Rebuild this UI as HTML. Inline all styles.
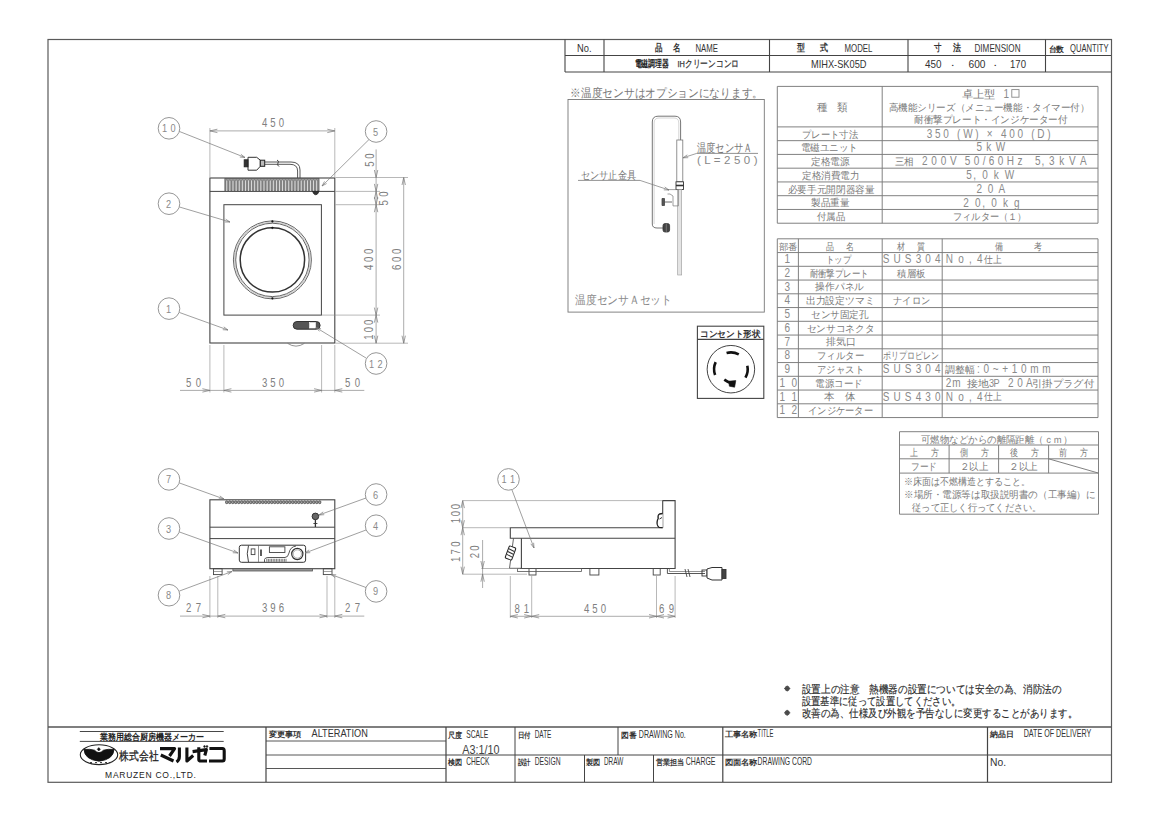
<!DOCTYPE html>
<html><head><meta charset="utf-8"><style>
html,body{margin:0;padding:0;background:#fff;width:1161px;height:821px;overflow:hidden}
svg{display:block;font-family:"Liberation Sans",sans-serif}
</style></head><body>
<svg width="1161" height="821" viewBox="0 0 1161 821">
<rect x="0" y="0" width="1161" height="821" fill="#fff"/>
<rect x="48.00" y="39.50" width="1063.50" height="742.80" stroke="#5a5a5a" stroke-width="1.2" fill="none" rx="0"/>
<line x1="565.00" y1="39.50" x2="565.00" y2="72.00" stroke="#444" stroke-width="1.1"/>
<line x1="604.00" y1="39.50" x2="604.00" y2="72.00" stroke="#444" stroke-width="1.1"/>
<line x1="769.50" y1="39.50" x2="769.50" y2="72.00" stroke="#444" stroke-width="1.1"/>
<line x1="908.00" y1="39.50" x2="908.00" y2="72.00" stroke="#444" stroke-width="1.1"/>
<line x1="1045.50" y1="39.50" x2="1045.50" y2="72.00" stroke="#444" stroke-width="1.1"/>
<line x1="565.00" y1="55.50" x2="1111.00" y2="55.50" stroke="#444" stroke-width="1.1"/>
<line x1="565.00" y1="72.00" x2="1111.00" y2="72.00" stroke="#444" stroke-width="1.1"/>
<text x="577.00" y="51.80" font-size="11.8" fill="#333" textLength="14.50" lengthAdjust="spacingAndGlyphs">No.</text>
<text x="654.50" y="51.30" font-size="9.5" fill="#333" textLength="7.50" lengthAdjust="spacingAndGlyphs" font-weight="bold">品</text>
<text x="673.00" y="51.30" font-size="9.5" fill="#333" textLength="7.50" lengthAdjust="spacingAndGlyphs" font-weight="bold">名</text>
<text x="695.50" y="51.80" font-size="11.8" fill="#333" textLength="22.50" lengthAdjust="spacingAndGlyphs">NAME</text>
<text x="797.00" y="51.30" font-size="9.5" fill="#333" textLength="8.00" lengthAdjust="spacingAndGlyphs" font-weight="bold">型</text>
<text x="820.00" y="51.30" font-size="9.5" fill="#333" textLength="8.00" lengthAdjust="spacingAndGlyphs" font-weight="bold">式</text>
<text x="844.50" y="51.80" font-size="11.8" fill="#333" textLength="28.00" lengthAdjust="spacingAndGlyphs">MODEL</text>
<text x="934.00" y="51.30" font-size="9.5" fill="#333" textLength="7.50" lengthAdjust="spacingAndGlyphs" font-weight="bold">寸</text>
<text x="953.00" y="51.30" font-size="9.5" fill="#333" textLength="8.00" lengthAdjust="spacingAndGlyphs" font-weight="bold">法</text>
<text x="974.50" y="51.80" font-size="11.8" fill="#333" textLength="46.00" lengthAdjust="spacingAndGlyphs">DIMENSION</text>
<text x="1048.50" y="51.50" font-size="8" fill="#333" textLength="15.50" lengthAdjust="spacingAndGlyphs" font-weight="bold">台数</text>
<text x="1070.00" y="51.80" font-size="11.8" fill="#333" textLength="38.50" lengthAdjust="spacingAndGlyphs">QUANTITY</text>
<text x="634.50" y="67.30" font-size="9.5" fill="#222" textLength="34.50" lengthAdjust="spacingAndGlyphs" font-weight="bold">電磁調理器</text>
<g stroke="#333" stroke-width="0.25">
<text x="677.50" y="67.30" font-size="9.5" fill="#333" textLength="61.50" lengthAdjust="spacingAndGlyphs">IHクリーンコンロ</text>
</g>
<text x="811.00" y="68.00" font-size="11" fill="#333" textLength="55.50" lengthAdjust="spacingAndGlyphs">MIHX-SK05D</text>
<text x="925.00" y="68.00" font-size="11" fill="#333" textLength="16.50" lengthAdjust="spacingAndGlyphs">450</text>
<text x="953.00" y="67.00" font-size="5" fill="#333" text-anchor="middle">▪</text>
<text x="968.50" y="68.00" font-size="11" fill="#333" textLength="17.00" lengthAdjust="spacingAndGlyphs">600</text>
<text x="995.50" y="67.00" font-size="5" fill="#333" text-anchor="middle">▪</text>
<text x="1010.00" y="68.00" font-size="11" fill="#333" textLength="16.00" lengthAdjust="spacingAndGlyphs">170</text>
<line x1="777.30" y1="86.40" x2="1098.00" y2="86.40" stroke="#7a7a7a" stroke-width="0.95"/>
<line x1="777.30" y1="126.90" x2="1098.00" y2="126.90" stroke="#7a7a7a" stroke-width="0.95"/>
<line x1="777.30" y1="140.66" x2="1098.00" y2="140.66" stroke="#7a7a7a" stroke-width="0.95"/>
<line x1="777.30" y1="154.42" x2="1098.00" y2="154.42" stroke="#7a7a7a" stroke-width="0.95"/>
<line x1="777.30" y1="168.18" x2="1098.00" y2="168.18" stroke="#7a7a7a" stroke-width="0.95"/>
<line x1="777.30" y1="181.94" x2="1098.00" y2="181.94" stroke="#7a7a7a" stroke-width="0.95"/>
<line x1="777.30" y1="195.70" x2="1098.00" y2="195.70" stroke="#7a7a7a" stroke-width="0.95"/>
<line x1="777.30" y1="209.46" x2="1098.00" y2="209.46" stroke="#7a7a7a" stroke-width="0.95"/>
<line x1="777.30" y1="223.22" x2="1098.00" y2="223.22" stroke="#7a7a7a" stroke-width="0.95"/>
<line x1="777.30" y1="86.40" x2="777.30" y2="223.20" stroke="#7a7a7a" stroke-width="0.95"/>
<line x1="882.20" y1="86.40" x2="882.20" y2="223.20" stroke="#7a7a7a" stroke-width="0.95"/>
<line x1="1098.00" y1="86.40" x2="1098.00" y2="223.20" stroke="#7a7a7a" stroke-width="0.95"/>
<text x="816.50" y="110.80" font-size="10.5" fill="#7a7a7a" textLength="10.50" lengthAdjust="spacingAndGlyphs">種</text>
<text x="836.50" y="110.80" font-size="10.5" fill="#7a7a7a" textLength="10.50" lengthAdjust="spacingAndGlyphs">類</text>
<text x="961.80" y="97.80" font-size="10.5" fill="#7a7a7a" textLength="33.70" lengthAdjust="spacingAndGlyphs">卓上型</text>
<text transform="translate(1003.50,97.80) scale(0.8,1)" x="0" y="0" font-size="12.5" fill="#8a8a8a" textLength="6.41" lengthAdjust="spacing">1</text>
<rect x="1011.80" y="89.60" width="7.20" height="7.60" stroke="#888" stroke-width="0.9" fill="none" rx="0"/>
<text x="888.60" y="110.70" font-size="9.5" fill="#7a7a7a" textLength="200.90" lengthAdjust="spacingAndGlyphs">高機能シリーズ（メニュー機能・タイマー付）</text>
<text x="914.00" y="123.30" font-size="9.5" fill="#7a7a7a" textLength="153.50" lengthAdjust="spacingAndGlyphs">耐衝撃プレート・インジケーター付</text>
<text x="802.20" y="137.50" font-size="9.5" fill="#7a7a7a" textLength="55.80" lengthAdjust="spacingAndGlyphs">プレート寸法</text>
<text x="800.70" y="151.26" font-size="9.5" fill="#7a7a7a" textLength="57.30" lengthAdjust="spacingAndGlyphs">電磁ユニット</text>
<text x="811.00" y="165.02" font-size="9.5" fill="#7a7a7a" textLength="38.50" lengthAdjust="spacingAndGlyphs">定格電源</text>
<text x="802.20" y="178.78" font-size="9.5" fill="#7a7a7a" textLength="57.30" lengthAdjust="spacingAndGlyphs">定格消費電力</text>
<text x="787.60" y="192.54" font-size="9.5" fill="#7a7a7a" textLength="86.90" lengthAdjust="spacingAndGlyphs">必要手元開閉器容量</text>
<text x="811.00" y="206.30" font-size="9.5" fill="#7a7a7a" textLength="38.50" lengthAdjust="spacingAndGlyphs">製品重量</text>
<text x="816.90" y="220.06" font-size="9.5" fill="#7a7a7a" textLength="28.10" lengthAdjust="spacingAndGlyphs">付属品</text>
<text transform="translate(926.70,137.70) scale(0.8,1)" x="0" y="0" font-size="12.5" fill="#8a8a8a" textLength="154.91" lengthAdjust="spacing">350 (W) × 400 (D)</text>
<text transform="translate(976.40,151.46) scale(0.8,1)" x="0" y="0" font-size="12.5" fill="#8a8a8a" textLength="35.91" lengthAdjust="spacing">5 k W</text>
<text transform="translate(966.20,178.98) scale(0.8,1)" x="0" y="0" font-size="12.5" fill="#8a8a8a" textLength="59.91" lengthAdjust="spacing">5, 0 k W</text>
<text transform="translate(976.40,192.74) scale(0.8,1)" x="0" y="0" font-size="12.5" fill="#8a8a8a" textLength="35.91" lengthAdjust="spacing">2 0 A</text>
<text transform="translate(963.30,206.50) scale(0.8,1)" x="0" y="0" font-size="12.5" fill="#8a8a8a" textLength="70.41" lengthAdjust="spacing">2 0, 0 k g</text>
<text x="953.00" y="220.26" font-size="9.5" fill="#7a7a7a" textLength="73.50" lengthAdjust="spacingAndGlyphs">フィルター（１）</text>
<text x="894.50" y="165.02" font-size="9.5" fill="#7a7a7a" textLength="19.00" lengthAdjust="spacingAndGlyphs">三相</text>
<text transform="translate(922.00,165.22) scale(0.8,1)" x="0" y="0" font-size="12.5" fill="#8a8a8a" textLength="43.28" lengthAdjust="spacing">2 0 0 V</text>
<text transform="translate(964.70,165.22) scale(0.8,1)" x="0" y="0" font-size="12.5" fill="#8a8a8a" textLength="72.16" lengthAdjust="spacing">5 0 / 6 0 H z</text>
<text transform="translate(1035.00,165.22) scale(0.8,1)" x="0" y="0" font-size="12.5" fill="#8a8a8a" textLength="64.53" lengthAdjust="spacing">5, 3 k V A</text>
<line x1="777.30" y1="238.80" x2="1098.00" y2="238.80" stroke="#7a7a7a" stroke-width="0.95"/>
<line x1="777.30" y1="252.55" x2="1098.00" y2="252.55" stroke="#7a7a7a" stroke-width="0.95"/>
<line x1="777.30" y1="266.30" x2="1098.00" y2="266.30" stroke="#7a7a7a" stroke-width="0.95"/>
<line x1="777.30" y1="280.05" x2="1098.00" y2="280.05" stroke="#7a7a7a" stroke-width="0.95"/>
<line x1="777.30" y1="293.80" x2="1098.00" y2="293.80" stroke="#7a7a7a" stroke-width="0.95"/>
<line x1="777.30" y1="307.55" x2="1098.00" y2="307.55" stroke="#7a7a7a" stroke-width="0.95"/>
<line x1="777.30" y1="321.30" x2="1098.00" y2="321.30" stroke="#7a7a7a" stroke-width="0.95"/>
<line x1="777.30" y1="335.05" x2="1098.00" y2="335.05" stroke="#7a7a7a" stroke-width="0.95"/>
<line x1="777.30" y1="348.80" x2="1098.00" y2="348.80" stroke="#7a7a7a" stroke-width="0.95"/>
<line x1="777.30" y1="362.55" x2="1098.00" y2="362.55" stroke="#7a7a7a" stroke-width="0.95"/>
<line x1="777.30" y1="376.30" x2="1098.00" y2="376.30" stroke="#7a7a7a" stroke-width="0.95"/>
<line x1="777.30" y1="390.05" x2="1098.00" y2="390.05" stroke="#7a7a7a" stroke-width="0.95"/>
<line x1="777.30" y1="403.80" x2="1098.00" y2="403.80" stroke="#7a7a7a" stroke-width="0.95"/>
<line x1="777.30" y1="417.55" x2="1098.00" y2="417.55" stroke="#7a7a7a" stroke-width="0.95"/>
<line x1="777.30" y1="238.80" x2="777.30" y2="417.55" stroke="#7a7a7a" stroke-width="0.95"/>
<line x1="798.40" y1="238.80" x2="798.40" y2="417.55" stroke="#7a7a7a" stroke-width="0.95"/>
<line x1="882.20" y1="238.80" x2="882.20" y2="417.55" stroke="#7a7a7a" stroke-width="0.95"/>
<line x1="942.20" y1="238.80" x2="942.20" y2="417.55" stroke="#7a7a7a" stroke-width="0.95"/>
<line x1="1098.00" y1="238.80" x2="1098.00" y2="417.55" stroke="#7a7a7a" stroke-width="0.95"/>
<text x="778.50" y="249.50" font-size="9" fill="#7a7a7a" textLength="19.00" lengthAdjust="spacingAndGlyphs">部番</text>
<text x="826.00" y="249.50" font-size="9.5" fill="#7a7a7a" textLength="8.00" lengthAdjust="spacingAndGlyphs">品</text>
<text x="846.00" y="249.50" font-size="9.5" fill="#7a7a7a" textLength="8.00" lengthAdjust="spacingAndGlyphs">名</text>
<text x="897.00" y="249.50" font-size="9.5" fill="#7a7a7a" textLength="8.00" lengthAdjust="spacingAndGlyphs">材</text>
<text x="917.00" y="249.50" font-size="9.5" fill="#7a7a7a" textLength="8.00" lengthAdjust="spacingAndGlyphs">質</text>
<text x="995.00" y="249.50" font-size="9.5" fill="#7a7a7a" textLength="8.00" lengthAdjust="spacingAndGlyphs">備</text>
<text x="1034.00" y="249.50" font-size="9.5" fill="#7a7a7a" textLength="8.00" lengthAdjust="spacingAndGlyphs">考</text>
<text transform="translate(784.50,263.15) scale(0.8,1)" x="0" y="0" font-size="12.5" fill="#8a8a8a" textLength="9.53" lengthAdjust="spacing">1</text>
<text x="825.60" y="262.95" font-size="9.5" fill="#7a7a7a" textLength="25.40" lengthAdjust="spacingAndGlyphs">トップ</text>
<text transform="translate(882.70,263.15) scale(0.8,1)" x="0" y="0" font-size="12.5" fill="#8a8a8a" textLength="72.41" lengthAdjust="spacing">SUS304</text>
<text transform="translate(945.70,263.15) scale(0.8,1)" x="0" y="0" font-size="12.5" fill="#8a8a8a" textLength="46.16" lengthAdjust="spacing">N o ,  4</text>
<text x="984.00" y="262.95" font-size="9.5" fill="#7a7a7a" textLength="17.50" lengthAdjust="spacingAndGlyphs">仕上</text>
<text transform="translate(784.50,276.90) scale(0.8,1)" x="0" y="0" font-size="12.5" fill="#8a8a8a" textLength="9.53" lengthAdjust="spacing">2</text>
<text x="809.50" y="276.70" font-size="9.5" fill="#7a7a7a" textLength="59.00" lengthAdjust="spacingAndGlyphs">耐衝撃プレート</text>
<text x="897.40" y="276.70" font-size="9.5" fill="#7a7a7a" textLength="28.10" lengthAdjust="spacingAndGlyphs">積層板</text>
<text transform="translate(784.50,290.65) scale(0.8,1)" x="0" y="0" font-size="12.5" fill="#8a8a8a" textLength="9.53" lengthAdjust="spacing">3</text>
<text x="815.40" y="290.45" font-size="9.5" fill="#7a7a7a" textLength="48.60" lengthAdjust="spacingAndGlyphs">操作パネル</text>
<text transform="translate(784.50,304.40) scale(0.8,1)" x="0" y="0" font-size="12.5" fill="#8a8a8a" textLength="9.53" lengthAdjust="spacing">4</text>
<text x="805.70" y="304.20" font-size="9.5" fill="#7a7a7a" textLength="68.80" lengthAdjust="spacingAndGlyphs">出力設定ツマミ</text>
<text x="893.00" y="304.20" font-size="9.5" fill="#7a7a7a" textLength="37.00" lengthAdjust="spacingAndGlyphs">ナイロン</text>
<text transform="translate(784.50,318.15) scale(0.8,1)" x="0" y="0" font-size="12.5" fill="#8a8a8a" textLength="9.53" lengthAdjust="spacing">5</text>
<text x="811.00" y="317.95" font-size="9.5" fill="#7a7a7a" textLength="57.50" lengthAdjust="spacingAndGlyphs">センサ固定孔</text>
<text transform="translate(784.50,331.90) scale(0.8,1)" x="0" y="0" font-size="12.5" fill="#8a8a8a" textLength="9.53" lengthAdjust="spacing">6</text>
<text x="806.60" y="331.70" font-size="9.5" fill="#7a7a7a" textLength="67.90" lengthAdjust="spacingAndGlyphs">センサコネクタ</text>
<text transform="translate(784.50,345.65) scale(0.8,1)" x="0" y="0" font-size="12.5" fill="#8a8a8a" textLength="9.53" lengthAdjust="spacing">7</text>
<text x="825.60" y="345.45" font-size="9.5" fill="#7a7a7a" textLength="29.90" lengthAdjust="spacingAndGlyphs">排気口</text>
<text transform="translate(784.50,359.40) scale(0.8,1)" x="0" y="0" font-size="12.5" fill="#8a8a8a" textLength="9.53" lengthAdjust="spacing">8</text>
<text x="816.90" y="359.20" font-size="9.5" fill="#7a7a7a" textLength="47.10" lengthAdjust="spacingAndGlyphs">フィルター</text>
<text x="882.70" y="359.20" font-size="9.5" fill="#7a7a7a" textLength="55.80" lengthAdjust="spacingAndGlyphs">ポリプロピレン</text>
<text transform="translate(784.50,373.15) scale(0.8,1)" x="0" y="0" font-size="12.5" fill="#8a8a8a" textLength="9.53" lengthAdjust="spacing">9</text>
<text x="816.90" y="372.95" font-size="9.5" fill="#7a7a7a" textLength="47.10" lengthAdjust="spacingAndGlyphs">アジャスト</text>
<text transform="translate(882.70,373.15) scale(0.8,1)" x="0" y="0" font-size="12.5" fill="#8a8a8a" textLength="72.41" lengthAdjust="spacing">SUS304</text>
<text transform="translate(977.00,373.15) scale(0.8,1)" x="0" y="0" font-size="12.5" fill="#8a8a8a" textLength="92.03" lengthAdjust="spacing">: 0 ~ + 1 0 m m</text>
<text x="945.10" y="372.95" font-size="9.5" fill="#7a7a7a" textLength="29.90" lengthAdjust="spacingAndGlyphs">調整幅</text>
<text transform="translate(779.50,386.90) scale(0.8,1)" x="0" y="0" font-size="12.5" fill="#8a8a8a" textLength="22.03" lengthAdjust="spacing">10</text>
<text x="815.40" y="386.70" font-size="9.5" fill="#7a7a7a" textLength="47.10" lengthAdjust="spacingAndGlyphs">電源コード</text>
<text transform="translate(945.70,386.90) scale(0.8,1)" x="0" y="0" font-size="12.5" fill="#8a8a8a" textLength="18.66" lengthAdjust="spacing">2 m</text>
<text transform="translate(779.50,400.65) scale(0.8,1)" x="0" y="0" font-size="12.5" fill="#8a8a8a" textLength="22.03" lengthAdjust="spacing">11</text>
<text x="824.20" y="400.45" font-size="9.5" fill="#7a7a7a" textLength="31.30" lengthAdjust="spacingAndGlyphs">本　体</text>
<text transform="translate(882.70,400.65) scale(0.8,1)" x="0" y="0" font-size="12.5" fill="#8a8a8a" textLength="72.41" lengthAdjust="spacing">SUS430</text>
<text transform="translate(945.70,400.65) scale(0.8,1)" x="0" y="0" font-size="12.5" fill="#8a8a8a" textLength="46.16" lengthAdjust="spacing">N o ,  4</text>
<text x="984.00" y="400.45" font-size="9.5" fill="#7a7a7a" textLength="17.50" lengthAdjust="spacingAndGlyphs">仕上</text>
<text transform="translate(779.50,414.40) scale(0.8,1)" x="0" y="0" font-size="12.5" fill="#8a8a8a" textLength="22.03" lengthAdjust="spacing">12</text>
<text x="808.00" y="414.20" font-size="9.5" fill="#7a7a7a" textLength="65.00" lengthAdjust="spacingAndGlyphs">インジケーター</text>
<text x="967.00" y="386.70" font-size="9.5" fill="#7a7a7a" textLength="22.00" lengthAdjust="spacingAndGlyphs">接地</text>
<text transform="translate(989.00,386.90) scale(0.8,1)" x="0" y="0" font-size="11.5" fill="#8a8a8a" textLength="13.22" lengthAdjust="spacing">3P</text>
<text transform="translate(1008.00,386.90) scale(0.8,1)" x="0" y="0" font-size="12.5" fill="#8a8a8a" textLength="30.78" lengthAdjust="spacing">2 0 A</text>
<text x="1032.00" y="386.70" font-size="9.5" fill="#7a7a7a" textLength="62.00" lengthAdjust="spacingAndGlyphs">引掛プラグ付</text>
<line x1="899.50" y1="431.70" x2="1098.50" y2="431.70" stroke="#7a7a7a" stroke-width="0.95"/>
<line x1="899.50" y1="445.00" x2="1098.50" y2="445.00" stroke="#7a7a7a" stroke-width="0.95"/>
<line x1="899.50" y1="458.80" x2="1098.50" y2="458.80" stroke="#7a7a7a" stroke-width="0.95"/>
<line x1="899.50" y1="473.10" x2="1098.50" y2="473.10" stroke="#7a7a7a" stroke-width="0.95"/>
<line x1="899.50" y1="514.20" x2="1098.50" y2="514.20" stroke="#7a7a7a" stroke-width="0.95"/>
<line x1="899.50" y1="431.70" x2="899.50" y2="514.20" stroke="#7a7a7a" stroke-width="0.95"/>
<line x1="1098.50" y1="431.70" x2="1098.50" y2="514.20" stroke="#7a7a7a" stroke-width="0.95"/>
<line x1="949.10" y1="445.00" x2="949.10" y2="473.10" stroke="#7a7a7a" stroke-width="0.95"/>
<line x1="998.60" y1="445.00" x2="998.60" y2="473.10" stroke="#7a7a7a" stroke-width="0.95"/>
<line x1="1048.60" y1="445.00" x2="1048.60" y2="473.10" stroke="#7a7a7a" stroke-width="0.95"/>
<line x1="1048.60" y1="458.80" x2="1098.50" y2="473.10" stroke="#7a7a7a" stroke-width="0.95"/>
<text x="921.00" y="442.50" font-size="9.5" fill="#7a7a7a" textLength="151.00" lengthAdjust="spacingAndGlyphs">可燃物などからの離隔距離（ｃｍ）</text>
<text x="910.00" y="456.00" font-size="9.5" fill="#7a7a7a" textLength="8.00" lengthAdjust="spacingAndGlyphs">上</text>
<text x="931.00" y="456.00" font-size="9.5" fill="#7a7a7a" textLength="8.00" lengthAdjust="spacingAndGlyphs">方</text>
<text x="959.75" y="456.00" font-size="9.5" fill="#7a7a7a" textLength="8.00" lengthAdjust="spacingAndGlyphs">側</text>
<text x="980.75" y="456.00" font-size="9.5" fill="#7a7a7a" textLength="8.00" lengthAdjust="spacingAndGlyphs">方</text>
<text x="1009.50" y="456.00" font-size="9.5" fill="#7a7a7a" textLength="8.00" lengthAdjust="spacingAndGlyphs">後</text>
<text x="1030.50" y="456.00" font-size="9.5" fill="#7a7a7a" textLength="8.00" lengthAdjust="spacingAndGlyphs">方</text>
<text x="1059.25" y="456.00" font-size="9.5" fill="#7a7a7a" textLength="8.00" lengthAdjust="spacingAndGlyphs">前</text>
<text x="1080.25" y="456.00" font-size="9.5" fill="#7a7a7a" textLength="8.00" lengthAdjust="spacingAndGlyphs">方</text>
<text x="911.00" y="469.80" font-size="9.5" fill="#7a7a7a" textLength="26.00" lengthAdjust="spacingAndGlyphs">フード</text>
<text x="959.50" y="469.80" font-size="9.5" fill="#7a7a7a" textLength="28.50" lengthAdjust="spacingAndGlyphs">２以上</text>
<text x="1009.00" y="469.80" font-size="9.5" fill="#7a7a7a" textLength="29.00" lengthAdjust="spacingAndGlyphs">２以上</text>
<text x="904.00" y="484.50" font-size="9.5" fill="#7a7a7a" textLength="126.50" lengthAdjust="spacingAndGlyphs">※床面は不燃構造とすること。</text>
<text x="904.00" y="498.00" font-size="9.5" fill="#7a7a7a" textLength="191.50" lengthAdjust="spacingAndGlyphs">※場所・電源等は取扱説明書の（工事編）に</text>
<text x="912.00" y="511.00" font-size="9.5" fill="#7a7a7a" textLength="129.50" lengthAdjust="spacingAndGlyphs">従って正しく行ってください。</text>
<text x="570.40" y="96.70" font-size="12" fill="#777" textLength="192.60" lengthAdjust="spacingAndGlyphs">※温度センサはオプションになります。</text>
<rect x="568.00" y="99.50" width="196.30" height="212.60" stroke="#777" stroke-width="0.9" fill="none" rx="0"/>
<text x="575.20" y="304.10" font-size="12" fill="#8a8a8a" textLength="96.80" lengthAdjust="spacingAndGlyphs">温度センサＡセット</text>
<path d="M652.3,224 L652.3,122 Q652.3,116.2 658,116.2 L675,116.2 Q680.6,116.2 680.6,122 L680.6,140" stroke="#666" stroke-width="0.9" fill="none"/>
<path d="M654.1,224 L654.1,123 Q654.1,118 659,118 L674,118 Q678.8,118 678.8,123 L678.8,140" stroke="#aaa" stroke-width="0.5" fill="none"/>
<path d="M652.3,224 Q652.3,228 657,228 L663,228" stroke="#666" stroke-width="0.9" fill="none"/>
<rect x="663.00" y="223.60" width="6.60" height="8.40" stroke="#333" stroke-width="0.8" fill="#444" rx="2"/>
<line x1="666.30" y1="223.60" x2="666.30" y2="232.00" stroke="#999" stroke-width="0.6"/>
<rect x="676.80" y="140.00" width="6.00" height="41.80" stroke="#777" stroke-width="0.8" fill="none" rx="0"/>
<rect x="676.00" y="181.80" width="7.50" height="7.70" stroke="#333" stroke-width="0.9" fill="#fff" rx="0"/>
<line x1="676.00" y1="185.50" x2="683.50" y2="185.50" stroke="#333" stroke-width="1.6"/>
<rect x="677.70" y="189.50" width="4.00" height="85.50" stroke="#999" stroke-width="0.6" fill="#e4e4e4" rx="0"/>
<path d="M667.5,189.6 L678.4,189.6 L678.4,205.9 L673,205.9 L673,196 L670,194 L667.5,194" stroke="#777" stroke-width="0.7" fill="none"/>
<path d="M662,198.5 L664.5,198.5 L664.5,205.5 L662,205.5 Z M664.5,202 L672,202" stroke="#444" stroke-width="0.8" fill="#555"/>
<text x="696.80" y="151.60" font-size="12" fill="#777" textLength="55.70" lengthAdjust="spacingAndGlyphs">温度センサＡ</text>
<text x="697.00" y="164.30" font-size="11.5" fill="#888" textLength="60.58" lengthAdjust="spacing">( L = 2 5 0 )</text>
<line x1="696.70" y1="153.40" x2="758.00" y2="153.40" stroke="#777" stroke-width="0.8"/>
<line x1="696.70" y1="153.40" x2="683.00" y2="157.80" stroke="#777" stroke-width="0.7"/>
<path d="M687.30,154.84 L683.00,157.80 L688.22,157.70" stroke="#777" stroke-width="0.7" fill="none"/>
<text x="580.80" y="178.50" font-size="11" fill="#777" textLength="55.20" lengthAdjust="spacingAndGlyphs">センサ止金具</text>
<line x1="578.00" y1="180.40" x2="640.00" y2="180.40" stroke="#777" stroke-width="0.8"/>
<line x1="640.00" y1="180.40" x2="669.00" y2="190.00" stroke="#777" stroke-width="0.7"/>
<path d="M663.78,189.85 L669.00,190.00 L664.72,187.00" stroke="#777" stroke-width="0.7" fill="none"/>
<rect x="697.40" y="326.20" width="66.40" height="72.20" stroke="#444" stroke-width="1.1" fill="none" rx="0"/>
<line x1="697.40" y1="339.40" x2="763.80" y2="339.40" stroke="#444" stroke-width="1.1"/>
<text x="700.00" y="336.50" font-size="9" fill="#333" textLength="60.50" lengthAdjust="spacingAndGlyphs" font-weight="bold">コンセント形状</text>
<circle cx="730.90" cy="369.20" r="23.75" stroke="#444" stroke-width="1.0" fill="none"/>
<path d="M726.55,352.97 A16.8,16.8 0 0 1 738.79,354.37" stroke="#111" stroke-width="2.6" fill="none"/>
<path d="M715.11,374.95 A16.8,16.8 0 0 1 715.67,362.10" stroke="#111" stroke-width="2.6" fill="none"/>
<path d="M747.33,365.71 A16.8,16.8 0 0 1 745.45,377.60" stroke="#111" stroke-width="2.6" fill="none"/>
<path d="M724.3,379.6 Q727.5,382 731.5,383.2" stroke="#111" stroke-width="2.6" fill="none"/>
<path d="M728.6,381.2 L735.8,380.6 L734.6,387.2 L729.4,386.2 Z" stroke="#111" stroke-width="0.6" fill="#111"/>
<rect x="209.90" y="178.00" width="124.90" height="165.00" stroke="#444" stroke-width="1.1" fill="none" rx="0"/>
<line x1="209.90" y1="191.40" x2="334.80" y2="191.40" stroke="#444" stroke-width="1.0"/>
<rect x="224.90" y="178.50" width="94.10" height="12.50" stroke="#555" stroke-width="0.8" fill="#999" rx="0"/>
<path d="M225.90,191 L225.90,180.5 Q226.80,179.3 227.70,180.5 L227.70,191" stroke="#444" stroke-width="0.5" fill="#e8e8e8"/>
<path d="M229.00,191 L229.00,180.5 Q229.90,179.3 230.80,180.5 L230.80,191" stroke="#444" stroke-width="0.5" fill="#e8e8e8"/>
<path d="M232.10,191 L232.10,180.5 Q233.00,179.3 233.90,180.5 L233.90,191" stroke="#444" stroke-width="0.5" fill="#e8e8e8"/>
<path d="M235.20,191 L235.20,180.5 Q236.10,179.3 237.00,180.5 L237.00,191" stroke="#444" stroke-width="0.5" fill="#e8e8e8"/>
<path d="M238.30,191 L238.30,180.5 Q239.20,179.3 240.10,180.5 L240.10,191" stroke="#444" stroke-width="0.5" fill="#e8e8e8"/>
<path d="M241.40,191 L241.40,180.5 Q242.30,179.3 243.20,180.5 L243.20,191" stroke="#444" stroke-width="0.5" fill="#e8e8e8"/>
<path d="M244.50,191 L244.50,180.5 Q245.40,179.3 246.30,180.5 L246.30,191" stroke="#444" stroke-width="0.5" fill="#e8e8e8"/>
<path d="M247.60,191 L247.60,180.5 Q248.50,179.3 249.40,180.5 L249.40,191" stroke="#444" stroke-width="0.5" fill="#e8e8e8"/>
<path d="M250.70,191 L250.70,180.5 Q251.60,179.3 252.50,180.5 L252.50,191" stroke="#444" stroke-width="0.5" fill="#e8e8e8"/>
<path d="M253.80,191 L253.80,180.5 Q254.70,179.3 255.60,180.5 L255.60,191" stroke="#444" stroke-width="0.5" fill="#e8e8e8"/>
<path d="M256.90,191 L256.90,180.5 Q257.80,179.3 258.70,180.5 L258.70,191" stroke="#444" stroke-width="0.5" fill="#e8e8e8"/>
<path d="M260.00,191 L260.00,180.5 Q260.90,179.3 261.80,180.5 L261.80,191" stroke="#444" stroke-width="0.5" fill="#e8e8e8"/>
<path d="M263.10,191 L263.10,180.5 Q264.00,179.3 264.90,180.5 L264.90,191" stroke="#444" stroke-width="0.5" fill="#e8e8e8"/>
<path d="M266.20,191 L266.20,180.5 Q267.10,179.3 268.00,180.5 L268.00,191" stroke="#444" stroke-width="0.5" fill="#e8e8e8"/>
<path d="M269.30,191 L269.30,180.5 Q270.20,179.3 271.10,180.5 L271.10,191" stroke="#444" stroke-width="0.5" fill="#e8e8e8"/>
<path d="M272.40,191 L272.40,180.5 Q273.30,179.3 274.20,180.5 L274.20,191" stroke="#444" stroke-width="0.5" fill="#e8e8e8"/>
<path d="M275.50,191 L275.50,180.5 Q276.40,179.3 277.30,180.5 L277.30,191" stroke="#444" stroke-width="0.5" fill="#e8e8e8"/>
<path d="M278.60,191 L278.60,180.5 Q279.50,179.3 280.40,180.5 L280.40,191" stroke="#444" stroke-width="0.5" fill="#e8e8e8"/>
<path d="M281.70,191 L281.70,180.5 Q282.60,179.3 283.50,180.5 L283.50,191" stroke="#444" stroke-width="0.5" fill="#e8e8e8"/>
<path d="M284.80,191 L284.80,180.5 Q285.70,179.3 286.60,180.5 L286.60,191" stroke="#444" stroke-width="0.5" fill="#e8e8e8"/>
<path d="M287.90,191 L287.90,180.5 Q288.80,179.3 289.70,180.5 L289.70,191" stroke="#444" stroke-width="0.5" fill="#e8e8e8"/>
<path d="M291.00,191 L291.00,180.5 Q291.90,179.3 292.80,180.5 L292.80,191" stroke="#444" stroke-width="0.5" fill="#e8e8e8"/>
<path d="M294.10,191 L294.10,180.5 Q295.00,179.3 295.90,180.5 L295.90,191" stroke="#444" stroke-width="0.5" fill="#e8e8e8"/>
<path d="M297.20,191 L297.20,180.5 Q298.10,179.3 299.00,180.5 L299.00,191" stroke="#444" stroke-width="0.5" fill="#e8e8e8"/>
<path d="M300.30,191 L300.30,180.5 Q301.20,179.3 302.10,180.5 L302.10,191" stroke="#444" stroke-width="0.5" fill="#e8e8e8"/>
<path d="M303.40,191 L303.40,180.5 Q304.30,179.3 305.20,180.5 L305.20,191" stroke="#444" stroke-width="0.5" fill="#e8e8e8"/>
<path d="M306.50,191 L306.50,180.5 Q307.40,179.3 308.30,180.5 L308.30,191" stroke="#444" stroke-width="0.5" fill="#e8e8e8"/>
<path d="M309.60,191 L309.60,180.5 Q310.50,179.3 311.40,180.5 L311.40,191" stroke="#444" stroke-width="0.5" fill="#e8e8e8"/>
<path d="M312.70,191 L312.70,180.5 Q313.60,179.3 314.50,180.5 L314.50,191" stroke="#444" stroke-width="0.5" fill="#e8e8e8"/>
<path d="M315.80,191 L315.80,180.5 Q316.70,179.3 317.60,180.5 L317.60,191" stroke="#444" stroke-width="0.5" fill="#e8e8e8"/>
<path d="M312.5,191.4 L319,191.4 L317.5,194 Q315.8,195.5 314,194 Z" stroke="#222" stroke-width="0.8" fill="#333"/>
<rect x="223.90" y="204.70" width="97.50" height="110.40" stroke="#444" stroke-width="1.0" fill="none" rx="0"/>
<circle cx="272.40" cy="259.90" r="39.00" stroke="#555" stroke-width="0.9" fill="none"/>
<circle cx="272.40" cy="259.90" r="37.80" stroke="#999" stroke-width="0.5" fill="none"/>
<circle cx="272.40" cy="259.90" r="36.70" stroke="#555" stroke-width="0.9" fill="none"/>
<circle cx="272.40" cy="259.90" r="32.20" stroke="#333" stroke-width="1.5" fill="none"/>
<circle cx="272.40" cy="221.40" r="0.90" stroke="#111" stroke-width="0.4" fill="#111"/>
<circle cx="272.40" cy="227.80" r="0.90" stroke="#111" stroke-width="0.4" fill="#111"/>
<circle cx="272.40" cy="298.30" r="0.90" stroke="#111" stroke-width="0.4" fill="#111"/>
<rect x="293.20" y="321.50" width="26.90" height="7.70" stroke="#333" stroke-width="1.0" fill="#555" rx="3.8"/>
<rect x="309.50" y="322.60" width="6.00" height="5.40" stroke="#fff" stroke-width="0.6" fill="#fff" rx="0"/>
<path d="M287.5,343.3 Q296,349 304.5,343.3" stroke="#777" stroke-width="0.8" fill="none"/>
<path d="M264.7,162 L291,162 Q300,162 300,170 L300,178" stroke="#444" stroke-width="0.9" fill="none"/>
<path d="M264.7,164.3 L290,164.3 Q297.6,164.3 297.6,171 L297.6,178" stroke="#444" stroke-width="0.9" fill="none"/>
<path d="M248,157.3 L256.7,157.3 L260.3,160.2 L260.3,166.3 L256.7,170.2 L248,170.2 Z" stroke="#333" stroke-width="1.0" fill="#fff"/>
<rect x="260.30" y="160.20" width="4.40" height="6.10" stroke="#222" stroke-width="1.0" fill="#bbb" rx="0"/>
<rect x="244.20" y="159.80" width="3.80" height="7.00" stroke="#222" stroke-width="0.9" fill="#333" rx="0"/>
<path d="M277,160 Q279.5,161 278,163 Q276.5,165 279,166.5" stroke="#444" stroke-width="1.0" fill="none"/>
<line x1="209.90" y1="128.00" x2="209.90" y2="177.00" stroke="#888" stroke-width="0.6"/>
<line x1="334.80" y1="128.00" x2="334.80" y2="177.00" stroke="#888" stroke-width="0.6"/>
<line x1="209.90" y1="130.90" x2="334.80" y2="130.90" stroke="#888" stroke-width="0.7"/>
<path d="M217.40,129.20 L209.90,130.90 L217.40,132.60" stroke="#777" stroke-width="0.7" fill="none"/>
<path d="M327.30,132.60 L334.80,130.90 L327.30,129.20" stroke="#777" stroke-width="0.7" fill="none"/>
<text transform="translate(262.00,127.20) scale(0.8,1)" x="0" y="0" font-size="12" fill="#808080" textLength="27.62" lengthAdjust="spacing">450</text>
<line x1="335.50" y1="177.50" x2="408.00" y2="177.50" stroke="#888" stroke-width="0.6"/>
<line x1="335.50" y1="191.40" x2="380.00" y2="191.40" stroke="#888" stroke-width="0.6"/>
<line x1="335.50" y1="204.70" x2="380.00" y2="204.70" stroke="#888" stroke-width="0.6"/>
<line x1="322.00" y1="315.10" x2="380.00" y2="315.10" stroke="#888" stroke-width="0.6"/>
<line x1="335.50" y1="343.20" x2="408.00" y2="343.20" stroke="#888" stroke-width="0.6"/>
<line x1="376.10" y1="149.40" x2="376.10" y2="343.20" stroke="#888" stroke-width="0.7"/>
<line x1="403.70" y1="177.50" x2="403.70" y2="343.20" stroke="#888" stroke-width="0.7"/>
<path d="M374.40,170.00 L376.10,177.50 L377.80,170.00" stroke="#777" stroke-width="0.7" fill="none"/>
<path d="M377.80,198.90 L376.10,191.40 L374.40,198.90" stroke="#777" stroke-width="0.7" fill="none"/>
<path d="M374.40,183.90 L376.10,191.40 L377.80,183.90" stroke="#777" stroke-width="0.7" fill="none"/>
<path d="M377.80,212.20 L376.10,204.70 L374.40,212.20" stroke="#777" stroke-width="0.7" fill="none"/>
<path d="M374.40,197.20 L376.10,204.70 L377.80,197.20" stroke="#777" stroke-width="0.7" fill="none"/>
<path d="M377.80,322.60 L376.10,315.10 L374.40,322.60" stroke="#777" stroke-width="0.7" fill="none"/>
<path d="M374.40,307.60 L376.10,315.10 L377.80,307.60" stroke="#777" stroke-width="0.7" fill="none"/>
<path d="M374.40,335.70 L376.10,343.20 L377.80,335.70" stroke="#777" stroke-width="0.7" fill="none"/>
<path d="M405.40,185.00 L403.70,177.50 L402.00,185.00" stroke="#777" stroke-width="0.7" fill="none"/>
<path d="M402.00,335.70 L403.70,343.20 L405.40,335.70" stroke="#777" stroke-width="0.7" fill="none"/>
<text transform="translate(369.70,166.80) rotate(-90) scale(0.8,1)" x="0" y="4.20" font-size="12" fill="#808080" textLength="16.75" lengthAdjust="spacing">50</text>
<text transform="translate(383.60,205.50) rotate(-90) scale(0.8,1)" x="0" y="4.20" font-size="12" fill="#808080" textLength="17.50" lengthAdjust="spacing">50</text>
<text transform="translate(368.90,270.00) rotate(-90) scale(0.8,1)" x="0" y="4.20" font-size="12" fill="#808080" textLength="26.75" lengthAdjust="spacing">400</text>
<text transform="translate(396.50,270.00) rotate(-90) scale(0.8,1)" x="0" y="4.20" font-size="12" fill="#808080" textLength="26.75" lengthAdjust="spacing">600</text>
<text transform="translate(368.90,339.70) rotate(-90) scale(0.8,1)" x="0" y="4.20" font-size="12" fill="#808080" textLength="25.12" lengthAdjust="spacing">100</text>
<line x1="209.90" y1="345.00" x2="209.90" y2="392.50" stroke="#888" stroke-width="0.6"/>
<line x1="223.90" y1="345.00" x2="223.90" y2="392.50" stroke="#888" stroke-width="0.6"/>
<line x1="321.60" y1="345.00" x2="321.60" y2="392.50" stroke="#888" stroke-width="0.6"/>
<line x1="334.80" y1="345.00" x2="334.80" y2="392.50" stroke="#888" stroke-width="0.6"/>
<line x1="180.00" y1="390.40" x2="364.30" y2="390.40" stroke="#888" stroke-width="0.7"/>
<path d="M202.40,392.10 L209.90,390.40 L202.40,388.70" stroke="#777" stroke-width="0.7" fill="none"/>
<path d="M231.40,388.70 L223.90,390.40 L231.40,392.10" stroke="#777" stroke-width="0.7" fill="none"/>
<path d="M314.10,392.10 L321.60,390.40 L314.10,388.70" stroke="#777" stroke-width="0.7" fill="none"/>
<path d="M342.30,388.70 L334.80,390.40 L342.30,392.10" stroke="#777" stroke-width="0.7" fill="none"/>
<text transform="translate(186.00,386.80) scale(0.8,1)" x="0" y="0" font-size="12" fill="#808080" textLength="18.88" lengthAdjust="spacing">50</text>
<text transform="translate(262.00,386.80) scale(0.8,1)" x="0" y="0" font-size="12" fill="#808080" textLength="27.62" lengthAdjust="spacing">350</text>
<text transform="translate(345.00,386.80) scale(0.8,1)" x="0" y="0" font-size="12" fill="#808080" textLength="18.88" lengthAdjust="spacing">50</text>
<circle cx="169.00" cy="128.30" r="10.80" stroke="#8a8a8a" stroke-width="0.9" fill="none"/>
<text transform="translate(162.00,132.30) scale(0.8,1)" x="0" y="0" font-size="11.5" fill="#8a8a8a" textLength="16.97" lengthAdjust="spacing">10</text>
<line x1="179.50" y1="131.50" x2="245.00" y2="157.50" stroke="#777" stroke-width="0.7"/>
<path d="M239.80,157.05 L245.00,157.50 L240.91,154.26" stroke="#777" stroke-width="0.7" fill="none"/>
<circle cx="376.10" cy="131.50" r="10.80" stroke="#8a8a8a" stroke-width="0.9" fill="none"/>
<text transform="translate(373.10,135.50) scale(0.8,1)" x="0" y="0" font-size="11.5" fill="#8a8a8a" textLength="7.72" lengthAdjust="spacing">5</text>
<line x1="369.00" y1="139.50" x2="322.00" y2="186.00" stroke="#777" stroke-width="0.7"/>
<path d="M324.50,181.42 L322.00,186.00 L326.61,183.55" stroke="#777" stroke-width="0.7" fill="none"/>
<circle cx="169.00" cy="203.70" r="10.80" stroke="#8a8a8a" stroke-width="0.9" fill="none"/>
<text transform="translate(166.00,207.70) scale(0.8,1)" x="0" y="0" font-size="11.5" fill="#8a8a8a" textLength="7.72" lengthAdjust="spacing">2</text>
<line x1="179.50" y1="207.00" x2="230.00" y2="222.00" stroke="#777" stroke-width="0.7"/>
<path d="M224.78,222.01 L230.00,222.00 L225.63,219.14" stroke="#777" stroke-width="0.7" fill="none"/>
<circle cx="169.00" cy="308.60" r="10.80" stroke="#8a8a8a" stroke-width="0.9" fill="none"/>
<text transform="translate(166.00,312.60) scale(0.8,1)" x="0" y="0" font-size="11.5" fill="#8a8a8a" textLength="7.72" lengthAdjust="spacing">1</text>
<line x1="179.50" y1="312.50" x2="228.00" y2="330.00" stroke="#777" stroke-width="0.7"/>
<path d="M222.79,329.71 L228.00,330.00 L223.81,326.89" stroke="#777" stroke-width="0.7" fill="none"/>
<circle cx="376.10" cy="363.50" r="10.80" stroke="#8a8a8a" stroke-width="0.9" fill="none"/>
<text transform="translate(369.10,367.50) scale(0.8,1)" x="0" y="0" font-size="11.5" fill="#8a8a8a" textLength="16.97" lengthAdjust="spacing">12</text>
<line x1="366.00" y1="358.00" x2="316.00" y2="327.50" stroke="#777" stroke-width="0.7"/>
<path d="M321.05,328.82 L316.00,327.50 L319.49,331.38" stroke="#777" stroke-width="0.7" fill="none"/>
<rect x="209.90" y="499.80" width="124.90" height="68.90" stroke="#444" stroke-width="1.1" fill="none" rx="0"/>
<line x1="209.90" y1="527.20" x2="334.80" y2="527.20" stroke="#444" stroke-width="1.0"/>
<line x1="209.90" y1="538.60" x2="334.80" y2="538.60" stroke="#444" stroke-width="1.0"/>
<rect x="225.60" y="500.90" width="2.20" height="2.70" stroke="#333" stroke-width="0.75" fill="#aaa" rx="0.8"/>
<rect x="228.60" y="500.90" width="2.20" height="2.70" stroke="#333" stroke-width="0.75" fill="#aaa" rx="0.8"/>
<rect x="231.60" y="500.90" width="2.20" height="2.70" stroke="#333" stroke-width="0.75" fill="#aaa" rx="0.8"/>
<rect x="234.60" y="500.90" width="2.20" height="2.70" stroke="#333" stroke-width="0.75" fill="#aaa" rx="0.8"/>
<rect x="237.60" y="500.90" width="2.20" height="2.70" stroke="#333" stroke-width="0.75" fill="#aaa" rx="0.8"/>
<rect x="240.60" y="500.90" width="2.20" height="2.70" stroke="#333" stroke-width="0.75" fill="#aaa" rx="0.8"/>
<rect x="243.60" y="500.90" width="2.20" height="2.70" stroke="#333" stroke-width="0.75" fill="#aaa" rx="0.8"/>
<rect x="246.60" y="500.90" width="2.20" height="2.70" stroke="#333" stroke-width="0.75" fill="#aaa" rx="0.8"/>
<rect x="249.60" y="500.90" width="2.20" height="2.70" stroke="#333" stroke-width="0.75" fill="#aaa" rx="0.8"/>
<rect x="252.60" y="500.90" width="2.20" height="2.70" stroke="#333" stroke-width="0.75" fill="#aaa" rx="0.8"/>
<rect x="255.60" y="500.90" width="2.20" height="2.70" stroke="#333" stroke-width="0.75" fill="#aaa" rx="0.8"/>
<rect x="258.60" y="500.90" width="2.20" height="2.70" stroke="#333" stroke-width="0.75" fill="#aaa" rx="0.8"/>
<rect x="261.60" y="500.90" width="2.20" height="2.70" stroke="#333" stroke-width="0.75" fill="#aaa" rx="0.8"/>
<rect x="264.60" y="500.90" width="2.20" height="2.70" stroke="#333" stroke-width="0.75" fill="#aaa" rx="0.8"/>
<rect x="267.60" y="500.90" width="2.20" height="2.70" stroke="#333" stroke-width="0.75" fill="#aaa" rx="0.8"/>
<rect x="270.60" y="500.90" width="2.20" height="2.70" stroke="#333" stroke-width="0.75" fill="#aaa" rx="0.8"/>
<rect x="273.60" y="500.90" width="2.20" height="2.70" stroke="#333" stroke-width="0.75" fill="#aaa" rx="0.8"/>
<rect x="276.60" y="500.90" width="2.20" height="2.70" stroke="#333" stroke-width="0.75" fill="#aaa" rx="0.8"/>
<rect x="279.60" y="500.90" width="2.20" height="2.70" stroke="#333" stroke-width="0.75" fill="#aaa" rx="0.8"/>
<rect x="282.60" y="500.90" width="2.20" height="2.70" stroke="#333" stroke-width="0.75" fill="#aaa" rx="0.8"/>
<rect x="285.60" y="500.90" width="2.20" height="2.70" stroke="#333" stroke-width="0.75" fill="#aaa" rx="0.8"/>
<rect x="288.60" y="500.90" width="2.20" height="2.70" stroke="#333" stroke-width="0.75" fill="#aaa" rx="0.8"/>
<rect x="291.60" y="500.90" width="2.20" height="2.70" stroke="#333" stroke-width="0.75" fill="#aaa" rx="0.8"/>
<rect x="294.60" y="500.90" width="2.20" height="2.70" stroke="#333" stroke-width="0.75" fill="#aaa" rx="0.8"/>
<rect x="297.60" y="500.90" width="2.20" height="2.70" stroke="#333" stroke-width="0.75" fill="#aaa" rx="0.8"/>
<rect x="300.60" y="500.90" width="2.20" height="2.70" stroke="#333" stroke-width="0.75" fill="#aaa" rx="0.8"/>
<rect x="303.60" y="500.90" width="2.20" height="2.70" stroke="#333" stroke-width="0.75" fill="#aaa" rx="0.8"/>
<rect x="306.60" y="500.90" width="2.20" height="2.70" stroke="#333" stroke-width="0.75" fill="#aaa" rx="0.8"/>
<rect x="309.60" y="500.90" width="2.20" height="2.70" stroke="#333" stroke-width="0.75" fill="#aaa" rx="0.8"/>
<rect x="312.60" y="500.90" width="2.20" height="2.70" stroke="#333" stroke-width="0.75" fill="#aaa" rx="0.8"/>
<rect x="315.60" y="500.90" width="2.20" height="2.70" stroke="#333" stroke-width="0.75" fill="#aaa" rx="0.8"/>
<rect x="318.60" y="500.90" width="2.20" height="2.70" stroke="#333" stroke-width="0.75" fill="#aaa" rx="0.8"/>
<circle cx="315.40" cy="516.40" r="3.30" stroke="#333" stroke-width="1.0" fill="#666"/>
<line x1="315.40" y1="519.50" x2="315.40" y2="527.00" stroke="#333" stroke-width="1.3"/>
<line x1="313.40" y1="523.50" x2="317.40" y2="523.50" stroke="#333" stroke-width="0.9"/>
<rect x="239.30" y="545.20" width="66.30" height="17.10" stroke="#333" stroke-width="1.0" fill="none" rx="2.2"/>
<path d="M248.5,545.5 Q246,553.7 248.5,562" stroke="#444" stroke-width="1.0" fill="none"/>
<rect x="251.20" y="548.90" width="3.70" height="5.70" stroke="#444" stroke-width="0.9" fill="none" rx="0"/>
<line x1="261.00" y1="549.50" x2="261.00" y2="556.00" stroke="#333" stroke-width="1.6"/>
<line x1="258.50" y1="545.20" x2="258.50" y2="562.30" stroke="#666" stroke-width="0.7"/>
<rect x="269.40" y="546.80" width="15.50" height="5.70" stroke="#444" stroke-width="0.9" fill="none" rx="0"/>
<path d="M264.5,562 L264.5,559.5 Q265,557.5 268,557.5 L285,557.5 Q288,557.5 289,553 Q290,547 296,546" stroke="#444" stroke-width="0.9" fill="none"/>
<line x1="266.80" y1="558.80" x2="266.80" y2="561.80" stroke="#555" stroke-width="0.8"/>
<line x1="268.40" y1="558.80" x2="268.40" y2="561.80" stroke="#555" stroke-width="0.8"/>
<line x1="270.00" y1="558.80" x2="270.00" y2="561.80" stroke="#555" stroke-width="0.8"/>
<line x1="271.60" y1="558.80" x2="271.60" y2="561.80" stroke="#555" stroke-width="0.8"/>
<line x1="273.20" y1="558.80" x2="273.20" y2="561.80" stroke="#555" stroke-width="0.8"/>
<line x1="274.80" y1="558.80" x2="274.80" y2="561.80" stroke="#555" stroke-width="0.8"/>
<line x1="276.40" y1="558.80" x2="276.40" y2="561.80" stroke="#555" stroke-width="0.8"/>
<line x1="278.00" y1="558.80" x2="278.00" y2="561.80" stroke="#555" stroke-width="0.8"/>
<line x1="279.60" y1="558.80" x2="279.60" y2="561.80" stroke="#555" stroke-width="0.8"/>
<line x1="281.20" y1="558.80" x2="281.20" y2="561.80" stroke="#555" stroke-width="0.8"/>
<line x1="282.80" y1="558.80" x2="282.80" y2="561.80" stroke="#555" stroke-width="0.8"/>
<line x1="284.40" y1="558.80" x2="284.40" y2="561.80" stroke="#555" stroke-width="0.8"/>
<line x1="286.00" y1="558.80" x2="286.00" y2="561.80" stroke="#555" stroke-width="0.8"/>
<circle cx="297.30" cy="554.00" r="5.60" stroke="#333" stroke-width="1.2" fill="none"/>
<circle cx="297.30" cy="554.00" r="4.20" stroke="#777" stroke-width="0.6" fill="none"/>
<rect x="213.50" y="568.70" width="8.60" height="5.90" stroke="#444" stroke-width="0.9" fill="none" rx="0"/>
<rect x="323.30" y="568.70" width="8.70" height="5.90" stroke="#444" stroke-width="0.9" fill="none" rx="0"/>
<line x1="213.50" y1="571.50" x2="222.10" y2="571.50" stroke="#666" stroke-width="0.6"/>
<line x1="323.30" y1="571.50" x2="332.00" y2="571.50" stroke="#666" stroke-width="0.6"/>
<rect x="232.90" y="568.70" width="79.70" height="2.30" stroke="#555" stroke-width="0.8" fill="#999" rx="0"/>
<line x1="209.90" y1="576.00" x2="209.90" y2="618.00" stroke="#888" stroke-width="0.6"/>
<line x1="217.80" y1="576.00" x2="217.80" y2="618.00" stroke="#888" stroke-width="0.6"/>
<line x1="327.00" y1="576.00" x2="327.00" y2="618.00" stroke="#888" stroke-width="0.6"/>
<line x1="334.80" y1="576.00" x2="334.80" y2="618.00" stroke="#888" stroke-width="0.6"/>
<line x1="180.00" y1="616.10" x2="364.30" y2="616.10" stroke="#888" stroke-width="0.7"/>
<path d="M202.40,617.80 L209.90,616.10 L202.40,614.40" stroke="#777" stroke-width="0.7" fill="none"/>
<path d="M225.30,614.40 L217.80,616.10 L225.30,617.80" stroke="#777" stroke-width="0.7" fill="none"/>
<path d="M319.50,617.80 L327.00,616.10 L319.50,614.40" stroke="#777" stroke-width="0.7" fill="none"/>
<path d="M342.30,614.40 L334.80,616.10 L342.30,617.80" stroke="#777" stroke-width="0.7" fill="none"/>
<text transform="translate(186.00,611.80) scale(0.8,1)" x="0" y="0" font-size="12" fill="#808080" textLength="18.88" lengthAdjust="spacing">27</text>
<text transform="translate(262.00,611.80) scale(0.8,1)" x="0" y="0" font-size="12" fill="#808080" textLength="27.62" lengthAdjust="spacing">396</text>
<text transform="translate(345.00,611.80) scale(0.8,1)" x="0" y="0" font-size="12" fill="#808080" textLength="18.88" lengthAdjust="spacing">27</text>
<circle cx="169.00" cy="479.40" r="10.80" stroke="#8a8a8a" stroke-width="0.9" fill="none"/>
<text transform="translate(166.00,483.40) scale(0.8,1)" x="0" y="0" font-size="11.5" fill="#8a8a8a" textLength="7.72" lengthAdjust="spacing">7</text>
<line x1="179.50" y1="483.00" x2="224.00" y2="499.00" stroke="#777" stroke-width="0.7"/>
<path d="M218.79,498.72 L224.00,499.00 L219.80,495.90" stroke="#777" stroke-width="0.7" fill="none"/>
<circle cx="169.00" cy="528.50" r="10.80" stroke="#8a8a8a" stroke-width="0.9" fill="none"/>
<text transform="translate(166.00,532.50) scale(0.8,1)" x="0" y="0" font-size="11.5" fill="#8a8a8a" textLength="7.72" lengthAdjust="spacing">3</text>
<line x1="179.50" y1="532.00" x2="238.00" y2="553.00" stroke="#777" stroke-width="0.7"/>
<path d="M232.79,552.72 L238.00,553.00 L233.80,549.90" stroke="#777" stroke-width="0.7" fill="none"/>
<circle cx="169.00" cy="595.20" r="10.80" stroke="#8a8a8a" stroke-width="0.9" fill="none"/>
<text transform="translate(166.00,599.20) scale(0.8,1)" x="0" y="0" font-size="11.5" fill="#8a8a8a" textLength="7.72" lengthAdjust="spacing">8</text>
<line x1="179.50" y1="591.00" x2="232.00" y2="571.50" stroke="#777" stroke-width="0.7"/>
<path d="M227.84,574.65 L232.00,571.50 L226.79,571.83" stroke="#777" stroke-width="0.7" fill="none"/>
<circle cx="376.10" cy="494.50" r="10.80" stroke="#8a8a8a" stroke-width="0.9" fill="none"/>
<text transform="translate(373.10,498.50) scale(0.8,1)" x="0" y="0" font-size="11.5" fill="#8a8a8a" textLength="7.72" lengthAdjust="spacing">6</text>
<line x1="366.00" y1="498.00" x2="319.00" y2="515.00" stroke="#777" stroke-width="0.7"/>
<path d="M323.19,511.89 L319.00,515.00 L324.21,514.71" stroke="#777" stroke-width="0.7" fill="none"/>
<circle cx="376.10" cy="525.70" r="10.80" stroke="#8a8a8a" stroke-width="0.9" fill="none"/>
<text transform="translate(373.10,529.70) scale(0.8,1)" x="0" y="0" font-size="11.5" fill="#8a8a8a" textLength="7.72" lengthAdjust="spacing">4</text>
<line x1="366.00" y1="530.00" x2="305.00" y2="553.00" stroke="#777" stroke-width="0.7"/>
<path d="M309.15,549.83 L305.00,553.00 L310.21,552.64" stroke="#777" stroke-width="0.7" fill="none"/>
<circle cx="376.10" cy="591.40" r="10.80" stroke="#8a8a8a" stroke-width="0.9" fill="none"/>
<text transform="translate(373.10,595.40) scale(0.8,1)" x="0" y="0" font-size="11.5" fill="#8a8a8a" textLength="7.72" lengthAdjust="spacing">9</text>
<line x1="366.00" y1="587.50" x2="331.00" y2="574.50" stroke="#777" stroke-width="0.7"/>
<path d="M336.21,574.83 L331.00,574.50 L335.16,577.65" stroke="#777" stroke-width="0.7" fill="none"/>
<path d="M662.7,527.7 L662.7,500.6 L675.1,500.6 L675.1,568.5 L521.4,568.5 L521.4,538.3" stroke="#444" stroke-width="1.1" fill="none"/>
<path d="M662.7,527.7 L510.3,527.7 L510.3,538.3 L675.1,538.3" stroke="#444" stroke-width="1.1" fill="none"/>
<line x1="662.70" y1="538.30" x2="675.10" y2="538.30" stroke="#5a5a5a" stroke-width="0.0"/>
<path d="M513.5,538.3 L509.5,568.3 L521.4,568.3" stroke="#555" stroke-width="0.9" fill="none"/>
<g transform="rotate(20 510.5 553)">
<rect x="507.00" y="546.50" width="7.00" height="13.00" stroke="#222" stroke-width="1.0" fill="#fff" rx="1.2"/>
<line x1="507.50" y1="549.50" x2="513.50" y2="550.30" stroke="#333" stroke-width="1.0"/>
<line x1="507.50" y1="552.50" x2="513.50" y2="553.30" stroke="#333" stroke-width="1.0"/>
<line x1="507.50" y1="555.50" x2="513.50" y2="556.30" stroke="#333" stroke-width="1.0"/>
</g>
<path d="M662.7,513.5 L659.5,514 Q657.5,515 658.2,518.5 L657.5,520 Q656,525 659,527.3 L662.7,527.7" stroke="#222" stroke-width="1.3" fill="#fff"/>
<line x1="659.50" y1="519.00" x2="662.00" y2="517.50" stroke="#333" stroke-width="1.0"/>
<rect x="529.00" y="568.50" width="7.00" height="6.50" stroke="#444" stroke-width="0.9" fill="none" rx="0"/>
<rect x="589.90" y="568.50" width="9.00" height="6.50" stroke="#444" stroke-width="0.9" fill="none" rx="0"/>
<rect x="653.20" y="568.50" width="7.00" height="6.50" stroke="#444" stroke-width="0.9" fill="none" rx="0"/>
<rect x="517.50" y="568.50" width="64.10" height="3.10" stroke="#555" stroke-width="0.8" fill="none" rx="0"/>
<path d="M667.4,568.5 L667.4,573.5 L705,573.5" stroke="#444" stroke-width="0.9" fill="none"/>
<path d="M669.4,568.5 L669.4,571.5 L705,571.5" stroke="#666" stroke-width="0.7" fill="none"/>
<line x1="685.00" y1="569.00" x2="687.00" y2="577.00" stroke="#444" stroke-width="0.9"/>
<line x1="688.00" y1="569.00" x2="690.00" y2="577.00" stroke="#444" stroke-width="0.9"/>
<rect x="702.00" y="570.00" width="5.00" height="6.00" stroke="#333" stroke-width="0.9" fill="none" rx="0"/>
<path d="M707,569 L712,567.5 L722,567.5 L722,580 L712,580 L707,578 Z" stroke="#333" stroke-width="1.0" fill="#fff"/>
<rect x="722.00" y="569.50" width="4.00" height="9.00" stroke="#333" stroke-width="0.9" fill="#444" rx="0"/>
<line x1="462.70" y1="500.60" x2="662.70" y2="500.60" stroke="#888" stroke-width="0.6"/>
<line x1="462.70" y1="527.70" x2="510.30" y2="527.70" stroke="#888" stroke-width="0.6"/>
<line x1="462.70" y1="574.20" x2="527.00" y2="574.20" stroke="#888" stroke-width="0.6"/>
<line x1="481.30" y1="568.50" x2="520.00" y2="568.50" stroke="#888" stroke-width="0.6"/>
<line x1="462.70" y1="500.60" x2="462.70" y2="574.20" stroke="#888" stroke-width="0.7"/>
<path d="M464.40,508.10 L462.70,500.60 L461.00,508.10" stroke="#777" stroke-width="0.7" fill="none"/>
<path d="M461.00,520.20 L462.70,527.70 L464.40,520.20" stroke="#777" stroke-width="0.7" fill="none"/>
<path d="M464.40,535.20 L462.70,527.70 L461.00,535.20" stroke="#777" stroke-width="0.7" fill="none"/>
<path d="M461.00,566.70 L462.70,574.20 L464.40,566.70" stroke="#777" stroke-width="0.7" fill="none"/>
<line x1="482.60" y1="540.00" x2="482.60" y2="588.00" stroke="#888" stroke-width="0.7"/>
<path d="M480.90,561.00 L482.60,568.50 L484.30,561.00" stroke="#777" stroke-width="0.7" fill="none"/>
<path d="M484.30,581.70 L482.60,574.20 L480.90,581.70" stroke="#777" stroke-width="0.7" fill="none"/>
<text transform="translate(455.50,523.30) rotate(-90) scale(0.8,1)" x="0" y="4.20" font-size="12" fill="#808080" textLength="24.25" lengthAdjust="spacing">100</text>
<text transform="translate(455.50,562.00) rotate(-90) scale(0.8,1)" x="0" y="4.20" font-size="12" fill="#808080" textLength="25.75" lengthAdjust="spacing">170</text>
<text transform="translate(474.90,558.20) rotate(-90) scale(0.8,1)" x="0" y="4.20" font-size="12" fill="#808080" textLength="16.13" lengthAdjust="spacing">20</text>
<line x1="510.30" y1="576.00" x2="510.30" y2="618.00" stroke="#888" stroke-width="0.6"/>
<line x1="531.70" y1="576.00" x2="531.70" y2="618.00" stroke="#888" stroke-width="0.6"/>
<line x1="656.50" y1="576.00" x2="656.50" y2="618.00" stroke="#888" stroke-width="0.6"/>
<line x1="675.10" y1="576.00" x2="675.10" y2="618.00" stroke="#888" stroke-width="0.6"/>
<line x1="510.30" y1="616.30" x2="675.10" y2="616.30" stroke="#888" stroke-width="0.7"/>
<path d="M517.80,614.60 L510.30,616.30 L517.80,618.00" stroke="#777" stroke-width="0.7" fill="none"/>
<path d="M524.20,618.00 L531.70,616.30 L524.20,614.60" stroke="#777" stroke-width="0.7" fill="none"/>
<path d="M539.20,614.60 L531.70,616.30 L539.20,618.00" stroke="#777" stroke-width="0.7" fill="none"/>
<path d="M649.00,618.00 L656.50,616.30 L649.00,614.60" stroke="#777" stroke-width="0.7" fill="none"/>
<path d="M664.00,614.60 L656.50,616.30 L664.00,618.00" stroke="#777" stroke-width="0.7" fill="none"/>
<path d="M667.60,618.00 L675.10,616.30 L667.60,614.60" stroke="#777" stroke-width="0.7" fill="none"/>
<text transform="translate(514.50,612.50) scale(0.8,1)" x="0" y="0" font-size="12" fill="#808080" textLength="18.25" lengthAdjust="spacing">81</text>
<text transform="translate(584.00,612.50) scale(0.8,1)" x="0" y="0" font-size="12" fill="#808080" textLength="27.62" lengthAdjust="spacing">450</text>
<text transform="translate(659.00,612.50) scale(0.8,1)" x="0" y="0" font-size="12" fill="#808080" textLength="18.88" lengthAdjust="spacing">69</text>
<circle cx="508.50" cy="479.40" r="10.80" stroke="#8a8a8a" stroke-width="0.9" fill="none"/>
<text transform="translate(501.50,483.40) scale(0.8,1)" x="0" y="0" font-size="11.5" fill="#8a8a8a" textLength="16.97" lengthAdjust="spacing">11</text>
<line x1="512.00" y1="490.00" x2="534.00" y2="548.00" stroke="#777" stroke-width="0.7"/>
<path d="M530.82,543.86 L534.00,548.00 L533.63,542.79" stroke="#777" stroke-width="0.7" fill="none"/>
<g stroke="#2a2a2a" stroke-width="0.15">
<text x="801.80" y="692.60" font-size="11" fill="#2a2a2a" textLength="259.70" lengthAdjust="spacingAndGlyphs">設置上の注意　熱機器の設置については安全の為、消防法の</text>
<text x="801.80" y="704.60" font-size="11" fill="#2a2a2a" textLength="158.70" lengthAdjust="spacingAndGlyphs">設置基準に従って設置してください。</text>
<text x="801.80" y="717.40" font-size="11" fill="#2a2a2a" textLength="275.20" lengthAdjust="spacingAndGlyphs">改善の為、仕様及び外観を予告なしに変更することがあります。</text>
</g>
<circle cx="787.20" cy="688.50" r="2.20" stroke="#444" stroke-width="0.8" fill="#555"/>
<line x1="784.00" y1="688.50" x2="790.40" y2="688.50" stroke="#444" stroke-width="0.7"/>
<line x1="787.20" y1="685.50" x2="787.20" y2="691.50" stroke="#444" stroke-width="0.7"/>
<circle cx="787.20" cy="712.80" r="2.20" stroke="#444" stroke-width="0.8" fill="#555"/>
<line x1="784.00" y1="712.80" x2="790.40" y2="712.80" stroke="#444" stroke-width="0.7"/>
<line x1="787.20" y1="709.80" x2="787.20" y2="715.80" stroke="#444" stroke-width="0.7"/>
<line x1="48.00" y1="727.00" x2="1111.00" y2="727.00" stroke="#555" stroke-width="1.5"/>
<line x1="266.00" y1="727.00" x2="266.00" y2="782.00" stroke="#444" stroke-width="1.2"/>
<line x1="266.00" y1="741.00" x2="446.00" y2="741.00" stroke="#444" stroke-width="0.9"/>
<line x1="266.00" y1="755.00" x2="446.00" y2="755.00" stroke="#444" stroke-width="0.9"/>
<line x1="266.00" y1="768.50" x2="446.00" y2="768.50" stroke="#444" stroke-width="0.9"/>
<line x1="446.00" y1="727.00" x2="446.00" y2="782.00" stroke="#444" stroke-width="1.2"/>
<line x1="515.00" y1="727.00" x2="515.00" y2="782.00" stroke="#444" stroke-width="1.0"/>
<line x1="584.50" y1="755.00" x2="584.50" y2="782.00" stroke="#444" stroke-width="1.0"/>
<line x1="618.00" y1="727.00" x2="618.00" y2="755.00" stroke="#444" stroke-width="1.0"/>
<line x1="653.50" y1="755.00" x2="653.50" y2="782.00" stroke="#444" stroke-width="1.0"/>
<line x1="722.80" y1="727.00" x2="722.80" y2="782.00" stroke="#444" stroke-width="1.2"/>
<line x1="987.50" y1="727.00" x2="987.50" y2="782.00" stroke="#444" stroke-width="1.2"/>
<line x1="446.00" y1="755.00" x2="1111.00" y2="755.00" stroke="#444" stroke-width="1.0"/>
<text x="268.70" y="736.80" font-size="8" fill="#333" textLength="32.90" lengthAdjust="spacingAndGlyphs" font-weight="bold">変更事項</text>
<text x="311.50" y="736.80" font-size="10.2" fill="#333" textLength="56.30" lengthAdjust="spacingAndGlyphs">ALTERATION</text>
<text x="448.10" y="737.60" font-size="8" fill="#333" textLength="14.20" lengthAdjust="spacingAndGlyphs" font-weight="bold">尺度</text>
<text x="466.20" y="737.60" font-size="10.2" fill="#333" textLength="21.90" lengthAdjust="spacingAndGlyphs">SCALE</text>
<text x="462.30" y="753.60" font-size="12.5" fill="#444" textLength="37.20" lengthAdjust="spacingAndGlyphs">A3:1/10</text>
<text x="517.90" y="737.60" font-size="8" fill="#333" textLength="12.90" lengthAdjust="spacingAndGlyphs" font-weight="bold">日付</text>
<text x="534.70" y="737.60" font-size="10.2" fill="#333" textLength="16.70" lengthAdjust="spacingAndGlyphs">DATE</text>
<text x="621.20" y="737.60" font-size="8" fill="#333" textLength="15.50" lengthAdjust="spacingAndGlyphs" font-weight="bold">図番</text>
<text x="638.80" y="737.60" font-size="10.2" fill="#333" textLength="47.00" lengthAdjust="spacingAndGlyphs">DRAWING No.</text>
<text x="448.10" y="765.20" font-size="8" fill="#333" textLength="14.20" lengthAdjust="spacingAndGlyphs" font-weight="bold">検図</text>
<text x="466.20" y="765.20" font-size="10.2" fill="#333" textLength="23.20" lengthAdjust="spacingAndGlyphs">CHECK</text>
<text x="517.90" y="765.20" font-size="8" fill="#333" textLength="12.90" lengthAdjust="spacingAndGlyphs" font-weight="bold">設計</text>
<text x="534.70" y="765.20" font-size="10.2" fill="#333" textLength="25.80" lengthAdjust="spacingAndGlyphs">DESIGN</text>
<text x="586.30" y="765.20" font-size="8" fill="#333" textLength="14.20" lengthAdjust="spacingAndGlyphs" font-weight="bold">製図</text>
<text x="603.90" y="765.20" font-size="10.2" fill="#333" textLength="19.40" lengthAdjust="spacingAndGlyphs">DRAW</text>
<text x="656.10" y="765.20" font-size="8" fill="#333" textLength="28.40" lengthAdjust="spacingAndGlyphs" font-weight="bold">営業担当</text>
<text x="685.80" y="765.20" font-size="10.2" fill="#333" textLength="29.70" lengthAdjust="spacingAndGlyphs">CHARGE</text>
<text x="724.60" y="736.80" font-size="8" fill="#333" textLength="33.00" lengthAdjust="spacingAndGlyphs" font-weight="bold">工事名称</text>
<text x="757.60" y="736.80" font-size="10.2" fill="#333" textLength="15.90" lengthAdjust="spacingAndGlyphs">TITLE</text>
<text x="990.00" y="736.80" font-size="8" fill="#333" textLength="23.70" lengthAdjust="spacingAndGlyphs" font-weight="bold">納品日</text>
<text x="1023.70" y="736.80" font-size="10.2" fill="#333" textLength="67.50" lengthAdjust="spacingAndGlyphs">DATE OF DELIVERY</text>
<text x="724.60" y="765.40" font-size="8" fill="#333" textLength="33.00" lengthAdjust="spacingAndGlyphs" font-weight="bold">図面名称</text>
<text x="757.60" y="765.40" font-size="10.2" fill="#333" textLength="54.40" lengthAdjust="spacingAndGlyphs">DRAWING CORD</text>
<text x="990.00" y="765.60" font-size="11" fill="#333" textLength="16.00" lengthAdjust="spacingAndGlyphs">No.</text>
<line x1="79.80" y1="731.50" x2="223.70" y2="731.50" stroke="#333" stroke-width="0.9"/>
<line x1="79.80" y1="741.40" x2="223.70" y2="741.40" stroke="#333" stroke-width="0.9"/>
<text x="99.60" y="740.00" font-size="9" fill="#222" textLength="104.40" lengthAdjust="spacingAndGlyphs" font-weight="bold">業務用総合厨房機器メーカー</text>
<ellipse cx="99" cy="754.7" rx="18.7" ry="9.9" stroke="#222" stroke-width="1.1" fill="none"/>
<path d="M84,749.5 Q90,748.8 94.5,750.2 Q99,755 103.5,750.2 Q108,748.8 114,749.5 Q113.5,759.5 99,761.2 Q84.5,759.5 84,749.5 Z" stroke="#111" stroke-width="0.8" fill="#111"/>
<path d="M98.8,747.6 L100.4,749.3 L98.8,751 L97.2,749.3 Z" stroke="#111" stroke-width="0.5" fill="#111"/>
<line x1="90.00" y1="762.60" x2="92.00" y2="762.60" stroke="#333" stroke-width="1.0"/>
<line x1="95.00" y1="762.60" x2="97.00" y2="762.60" stroke="#333" stroke-width="1.0"/>
<line x1="100.00" y1="762.60" x2="102.00" y2="762.60" stroke="#333" stroke-width="1.0"/>
<line x1="105.00" y1="762.60" x2="107.00" y2="762.60" stroke="#333" stroke-width="1.0"/>
<line x1="109.00" y1="762.60" x2="111.00" y2="762.60" stroke="#333" stroke-width="1.0"/>
<g stroke="#222" stroke-width="0.3">
<text x="119.40" y="760.20" font-size="11.5" fill="#222" textLength="39.10" lengthAdjust="spacingAndGlyphs">株式会社</text>
</g>
<g stroke="#111" stroke-width="3.1" fill="none" stroke-linejoin="round" stroke-linecap="butt"><path d="M160,748.6 L174.6,748.6 L169.5,756"/><path d="M160.8,755 L173.5,761"/><path d="M179.4,747.6 L179.4,756.5 Q179.4,760 176.5,762"/><path d="M186.9,747.6 L186.9,761 L193.2,755.5"/><path d="M192.6,751.6 L206.4,749.6 L204.8,755.5"/><path d="M198.8,747.2 L198.8,759.4 Q198.8,761 201,761 L207,761"/><path d="M209.4,748.5 L222.4,748.5 Q224.2,748.5 224.2,751 L224.2,759 Q224.2,761 222.4,761 L209,761"/></g>
<circle cx="204.50" cy="746.50" r="0.90" stroke="#111" stroke-width="0.5" fill="#111"/>
<circle cx="207.00" cy="746.50" r="0.90" stroke="#111" stroke-width="0.5" fill="#111"/>
<text x="105.10" y="777.50" font-size="8.5" fill="#222" textLength="90.83" lengthAdjust="spacing">MARUZEN CO.,LTD.</text>
</svg></body></html>
